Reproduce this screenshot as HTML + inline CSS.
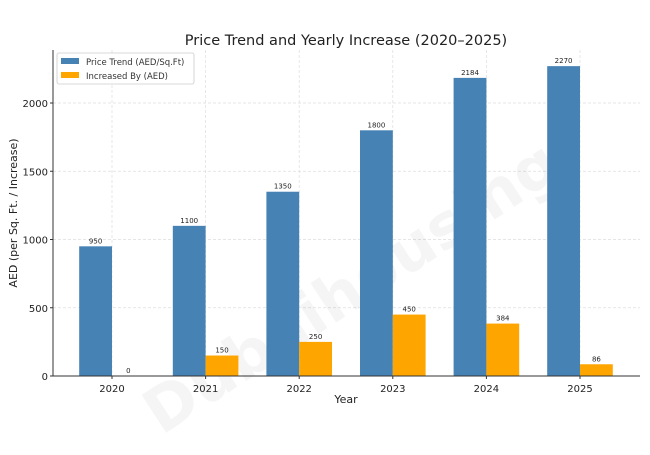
<!DOCTYPE html>
<html><head><meta charset="utf-8"><style>
body{margin:0;background:#fff;}
svg text{font-family:"DejaVu Sans","Liberation Sans",sans-serif;}
</style></head><body>
<svg width="650" height="450" xmlns="http://www.w3.org/2000/svg">
<g id="grid"></g>
<text x="320" y="300" font-size="62" font-weight="bold" fill="#000" fill-opacity="0.04" text-anchor="middle" transform="rotate(-33 350 230)">Dubaihousing</text>
<g id="bars"></g>
<g id="axes"></g>
<text x="346" y="45" font-size="14.5" text-anchor="middle" fill="#222">Price Trend and Yearly Increase (2020–2025)</text>
<text x="346" y="403" font-size="11" text-anchor="middle" fill="#222">Year</text>
<text transform="translate(17 213) rotate(-90)" font-size="11" text-anchor="middle" fill="#222">AED (per Sq. Ft. / Increase)</text>
<g>
<rect x="57" y="53" width="137" height="31" rx="2" fill="#fff" fill-opacity="0.85" stroke="#ccc" stroke-width="0.8"/>
<rect x="61" y="58" width="18" height="6" fill="#4682b4"/>
<text x="86" y="65" font-size="8.5" fill="#333">Price Trend (AED/Sq.Ft)</text>
<rect x="61" y="72" width="18" height="6" fill="#ffa500"/>
<text x="86" y="79" font-size="8.5" fill="#333">Increased By (AED)</text>
</g>
</svg>
<script>
const years=["2020","2021","2022","2023","2024","2025"];
const price=[950,1100,1350,1800,2184,2270];
const increase=[0,150,250,450,384,86];
const yTicks=[0,500,1000,1500,2000];
const NS="http://www.w3.org/2000/svg";
const L=53,R=640,T=50,B=376;
const x=i=>112+i*93.6;
const y=v=>B-v*0.1365;
const bw=32.8;
function mk(t,a,p){const e=document.createElementNS(NS,t);for(const k in a)e.setAttribute(k,a[k]);p.appendChild(e);return e;}
const g=document.getElementById('grid'),b=document.getElementById('bars'),ax=document.getElementById('axes');
yTicks.forEach(v=>{
 const l=mk('line',{x1:L,x2:R,y1:y(v),y2:y(v),stroke:'#ddd','stroke-width':0.7,'stroke-dasharray':'3,2'},g);
 
 
 const t=mk('text',{x:L-5,y:y(v)+4,'font-size':10,'text-anchor':'end',fill:'#222'},ax);t.textContent=v;
 
 
 mk('line',{x1:L-3,x2:L,y1:y(v),y2:y(v),stroke:'#333'},ax);
});
years.forEach((yr,i)=>{
 const l=mk('line',{x1:x(i),x2:x(i),y1:T,y2:B,stroke:'#ddd','stroke-width':0.7,'stroke-dasharray':'3,2'},g);
 
 
 const r1=mk('rect',{x:x(i)-bw,y:y(price[i]),width:bw,height:B-y(price[i]),fill:'#4682b4'},b);
 
 
 const r2=mk('rect',{x:x(i),y:y(increase[i]),width:bw,height:B-y(increase[i]),fill:'#ffa500'},b);
 
 
 const t1=mk('text',{x:x(i)-bw/2,y:y(price[i])-3,'font-size':7,'text-anchor':'middle',fill:'#222'},b);t1.textContent=price[i];
 
 
 const t2=mk('text',{x:x(i)+bw/2,y:y(increase[i])-3,'font-size':7,'text-anchor':'middle',fill:'#222'},b);t2.textContent=increase[i];
 
 
 const t=mk('text',{x:x(i),y:B+16,'font-size':10,'text-anchor':'middle',fill:'#222'},ax);t.textContent=yr;
 
 
 mk('line',{x1:x(i),x2:x(i),y1:B,y2:B+3,stroke:'#333'},ax);
});
const s1=mk('line',{x1:L,x2:L,y1:T,y2:B,stroke:'#333','stroke-width':1},ax);


const s2=mk('line',{x1:L,x2:R,y1:B,y2:B,stroke:'#333','stroke-width':1},ax);


</script>
</body></html>
